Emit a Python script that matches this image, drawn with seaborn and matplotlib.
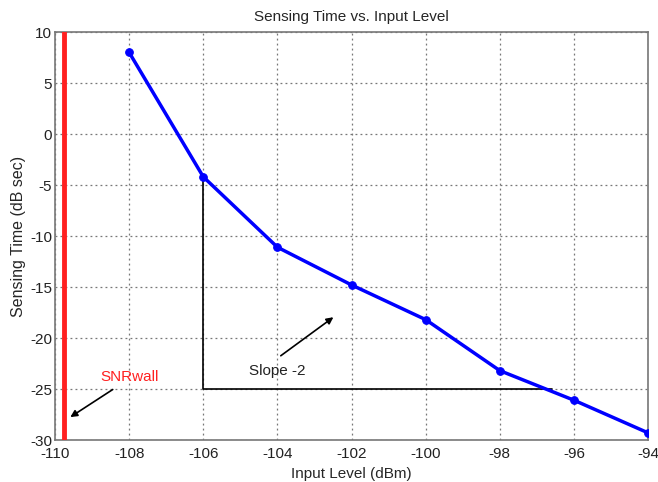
import matplotlib
matplotlib.use("Agg")
import matplotlib.pyplot as plt
import seaborn as sns
import pandas as pd

# Data
input_level = [-108, -106, -104, -102, -100, -98, -96, -94]
sensing_time = [8.0, -4.2, -11.1, -14.8, -18.2, -23.2, -26.1, -29.3]
snr_wall = -109.75
slope_x = [-106, -106, -96.6]
slope_y = [-4.2, -25, -25]

df = pd.DataFrame({"Input Level (dBm)": input_level, "Sensing Time (dB sec)": sensing_time})

sns.set_style("white")
plt.rcParams["font.family"] = ["Liberation Sans", "DejaVu Sans"]
plt.rcParams["axes.unicode_minus"] = False

fig = plt.figure(figsize=(6.58, 4.82), dpi=100)
ax = fig.add_axes([0.0836, 0.0871, 0.9014, 0.8465])

# slope triangle
ax.plot(slope_x, slope_y, color="black", lw=1.2, zorder=2)

sns.lineplot(data=df, x="Input Level (dBm)", y="Sensing Time (dB sec)", ax=ax,
             color="#0000ff", lw=2.5, marker="o", markersize=5.5,
             markeredgecolor="#0000ff", zorder=3)

ax.axvline(snr_wall, color="#ff2020", lw=3.5, zorder=4)

ax.set_xlim(-110, -94)
ax.set_ylim(-30, 10)
ax.set_xticks(range(-110, -93, 2))
ax.set_yticks(range(-30, 11, 5))
ax.grid(True, linestyle=(0, (1.5, 2.5)), color="#777777", lw=0.9)
for s in ax.spines.values():
    s.set_color("#777777")
    s.set_linewidth(1.2)
ax.tick_params(axis="both", labelsize=11, length=3, direction="in", colors="#222222")
ax.tick_params(axis="x", pad=5)
ax.tick_params(axis="y", pad=2)

ax.set_title("Sensing Time vs. Input Level", fontsize=11, pad=8)
ax.set_xlabel("Input Level (dBm)", fontsize=11, labelpad=4)
ax.set_ylabel("Sensing Time (dB sec)", fontsize=11.5, labelpad=3)

ax.annotate("", xy=(-109.65, -27.9), xytext=(-108.38, -24.9),
            arrowprops=dict(arrowstyle="-|>", color="black", lw=1.2, mutation_scale=10))
ax.text(-108.0, -23.8, "SNRwall", color="#ff2020", fontsize=11, ha="center", va="center")

ax.annotate("", xy=(-102.43, -17.8), xytext=(-103.97, -21.9),
            arrowprops=dict(arrowstyle="-|>", color="black", lw=1.2, mutation_scale=10))
ax.text(-104.0, -23.2, "Slope -2", color="#222222", fontsize=11, ha="center", va="center")

fig.savefig("out.png", dpi=100)
